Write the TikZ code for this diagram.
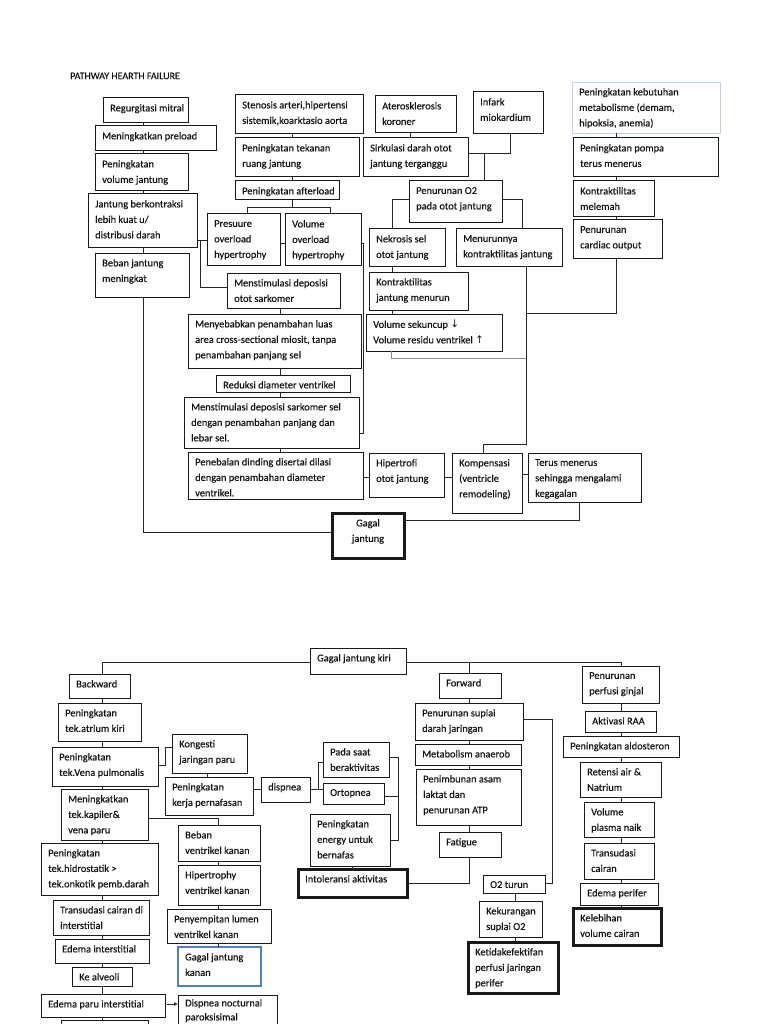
\documentclass[tikz,border=0pt]{standalone}
\usepackage{fontspec}
\setmainfont{Carlito}[FakeBold=0.35]
\newfontfamily\arrfont{DejaVu Sans}
\usetikzlibrary{arrows.meta}
\definecolor{gjblue}{RGB}{79,129,189}
\definecolor{paleblue}{RGB}{190,208,230}
\tikzset{
 box/.style={draw=black!90, line width=1pt, anchor=north west, inner sep=0pt, outer sep=0pt},
 thickbox/.style={line width=3pt},
 bluebox/.style={draw=gjblue, line width=2.5pt},
 palebox/.style={draw=paleblue, line width=0.8pt},
 txt/.style={anchor=north west, inner sep=0pt, align=left, font=\fontsize{10.4}{15.5}\selectfont, text=black!92},
 conn/.style={line width=1pt, draw=black!85},
}
\newcommand\bx[7][]{%
  \node[box,#1,minimum width={(#5)-(#3)},minimum height={(#6)-(#4)}] (#2) at (#3,#4) {};
  \node[txt] (#2t) at ([xshift=7pt,yshift=-6pt]#2.north west) {#7};}
\newcommand\arrdn{{\arrfont\fontsize{10.5}{12}\selectfont ↓}}
\newcommand\arrup{{\arrfont\fontsize{10.5}{12}\selectfont ↑}}
\begin{document}
\begin{tikzpicture}[x=1pt,y=-1pt]
\useasboundingbox (0,0) rectangle (768,1024);
\clip (0,0) rectangle (768,1024);
\fill[white] (0,0) rectangle (768,1024);
\node[txt, anchor=west, font=\fontsize{10}{12}\selectfont] (title) at (70,76) {PATHWAY HEARTH FAILURE};
% ---------- top half ----------
\bx{reg}{103}{98}{188}{123}{Regurgitasi mitral}
\bx{pre}{95}{126}{216}{151}{Meningkatkan preload}
\bx{vol}{95}{154}{188}{191}{Peningkatan\\volume jantung}
\bx{jbk}{88}{194}{197}{247}{Jantung berkontraksi\\lebih kuat u/\\distribusi darah}
\bx{bjm}{95}{253}{189}{297}{Beban jantung\\meningkat}
\bx{sten}{235}{95}{363}{134}{Stenosis arteri,hipertensi\\sistemik,koarktasio aorta}
\bx{tek}{235}{138}{359}{177}{Peningkatan tekanan\\ruang jantung}
\bx{aft}{235}{181}{339}{200}{Peningkatan afterload}
\bx{pres}{207}{214}{280}{265}{Presuure\\overload\\hypertrophy}
\bx{volo}{285}{214}{361}{265}{Volume\\overload\\hypertrophy}
\bx{msd}{227}{273}{340}{308}{Menstimulasi deposisi\\otot sarkomer}
\bx{meny}{188}{314}{361}{368}{Menyebabkan penambahan luas\\area cross-sectional miosit, tanpa\\penambahan panjang sel}
\bx{red}{216}{375}{350}{392}{Reduksi diameter ventrikel}
\bx{mss}{184}{397}{359}{448}{Menstimulasi deposisi sarkomer sel\\dengan penambahan panjang dan\\lebar sel.}
\bx{peneb}{188}{452}{363}{499}{Penebalan dinding disertai dilasi\\dengan penambahan diameter\\ventrikel.}
\bx{hip}{369}{453}{444}{497}{Hipertrofi\\otot jantung}
\bx{komp}{452}{453}{522}{513}{Kompensasi\\(ventricle\\remodeling)}
\bx{terus}{528}{453}{641}{502}{Terus menerus\\sehingga mengalami\\kegagalan}
\node[box,thickbox,minimum width=72,minimum height=45] (gagal) at (332,513) {};
\node[txt,anchor=north,align=center] (gagalt) at ([yshift=-6pt]gagal.north) {Gagal\\jantung};
\bx{ater}{375}{96}{456}{133}{Aterosklerosis\\koroner}
\bx{inf}{473}{92}{543}{134}{Infark\\miokardium}
\bx{sirk}{363}{138}{468}{177}{Sirkulasi darah otot\\jantung terganggu}
\bx{po2}{409}{181}{502}{223}{Penurunan O2\\pada otot jantung}
\bx{nek}{369}{229}{445}{266}{Nekrosis sel\\otot jantung}
\bx{menu}{456}{229}{562}{266}{Menurunnya\\kontraktilitas jantung}
\bx{kjm}{369}{272}{468}{310}{Kontraktilitas\\jantung menurun}
\bx{vs}{366}{314}{502}{351}{Volume sekuncup \arrdn\\Volume residu ventrikel \arrup}
\bx[palebox]{keb}{572}{82}{720}{133}{Peningkatan kebutuhan\\metabolisme (demam,\\hipoksia, anemia)}
\bx{pomp}{573}{138}{718}{177}{Peningkatan pompa\\terus menerus}
\bx{kml}{573}{181}{654}{217}{Kontraktilitas\\melemah}
\bx{pco}{573}{220}{662}{258}{Penurunan\\cardiac output}
% top connectors
\draw[conn] (reg.south -| 143,0) -- (pre.north -| 143,0);
\draw[conn] (pre.south -| 143,0) -- (vol.north -| 143,0);
\draw[conn] (vol.south -| 143,0) -- (jbk.north -| 143,0);
\draw[conn] (jbk.south -| 143,0) -- (bjm.north -| 143,0);
\draw[conn] (bjm.south -| 143,0) |- (gagal.west |- 0,532);
\draw[conn] (jbk.east |- 0,240) -- (pres.west |- 0,240);
\draw[conn] (jbk.east |- 0,240) -- (200,240) |- (msd.west |- 0,287);
\draw[conn] (pres.east |- 0,243) -- (volo.west |- 0,243);
\draw[conn] (volo.east |- 0,243) -- (363,243) |- (mss.east |- 0,433);
\draw[conn] (sten.south -| 292,0) -- (tek.north -| 292,0);
\draw[conn] (tek.south -| 292,0) -- (aft.north -| 292,0);
\draw[conn] (aft.south -| 292,0) -- (292,208);
\draw[conn] (pres.north -| 247,0) |- (330,208) -- (volo.north -| 330,0);
\draw[conn] (msd.south -| 280,0) -- (meny.north -| 280,0);
\draw[conn] (meny.south -| 280,0) -- (red.north -| 280,0);
\draw[conn] (red.south -| 280,0) -- (mss.north -| 280,0);
\draw[conn] (mss.south -| 280,0) -- (peneb.north -| 280,0);
\draw[conn] (peneb.east |- 0,477) -- (hip.west |- 0,477);
\draw[conn] (hip.east |- 0,477) -- (komp.west |- 0,477);
\draw[conn] (komp.east |- 0,474) -- (terus.west |- 0,474);
\draw[conn] (terus.south -| 579,0) |- (gagal.east |- 0,520);
\draw[conn] (komp.north -| 483,0) |- (526,444) -- (menu.south -| 526,0);
\draw[conn] (pco.south -| 616,0) |- (526,313);
\draw[line width=1pt, draw=black!45] (vs.south -| 391,0) |- (526,358);
\draw[conn] (ater.south -| 410,0) -- (sirk.north -| 410,0);
\draw[conn] (inf.south -| 510,0) |- (sirk.east |- 0,154);
\draw[conn] (484,154) -- (po2.north -| 484,0);
\draw[conn] (po2.west |- 0,200) -| (nek.north -| 392,0);
\draw[conn] (po2.east |- 0,200) -| (menu.north -| 522,0);
\draw[conn] (nek.south -| 392,0) -- (kjm.north -| 392,0);
\draw[conn] (kjm.south -| 392,0) -- (vs.north -| 392,0);
\draw[conn] (keb.south -| 616,0) -- (pomp.north -| 616,0);
\draw[conn] (pomp.south -| 616,0) -- (kml.north -| 616,0);
\draw[conn] (kml.south -| 616,0) -- (pco.north -| 616,0);
% ---------- bottom half ----------
\bx{gjk}{310}{648}{406}{674}{Gagal jantung kiri}
\bx{back}{69}{674}{130}{698}{Backward}
\bx{atr}{58}{703}{141}{741}{Peningkatan\\tek.atrium kiri}
\bx{ven}{52}{747}{158}{786}{Peningkatan\\tek.Vena pulmonalis}
\bx{kap}{61}{789}{148}{840}{Meningkatkan\\tek.kapiler\&\\vena paru}
\bx{hid}{41}{843}{158}{895}{Peningkatan\\tek.hidrostatik >\\tek.onkotik pemb.darah}
\bx{trc}{53}{900}{149}{935}{Transudasi cairan di\\interstitial}
\bx{edi}{55}{939}{149}{963}{Edema interstitial}
\bx{alv}{72}{967}{132}{986}{Ke alveoli}
\bx{epi}{41}{994}{165}{1017}{Edema paru interstitial}
\node[box,minimum width=87,minimum height=25] (nxt) at (61,1020) {};
\bx{kong}{172}{734}{247}{773}{Kongesti\\jaringan paru}
\bx{kerja}{165}{777}{253}{815}{Peningkatan\\kerja pernafasan}
\bx{disp}{261}{777}{310}{802}{dispnea}
\bx{beban}{178}{825}{260}{861}{Beban\\ventrikel kanan}
\bx{hvk}{178}{865}{260}{905}{Hipertrophy\\ventrikel kanan}
\bx{pyl}{167}{909}{271}{943}{Penyempitan lumen\\ventrikel kanan}
\bx[bluebox]{gjka}{178}{947}{261}{986}{Gagal jantung\\kanan}
\node[box,minimum width=99,minimum height=50] (dpn) at (178,995) {};
\node[txt,font=\fontsize{10.4}{14}\selectfont] (dpnt) at ([xshift=7pt,yshift=-4pt]dpn.north west) {Dispnea nocturnal\\paroksisimal};
\bx{pada}{323}{742}{389}{777}{Pada saat\\beraktivitas}
\bx{orto}{323}{783}{384}{804}{Ortopnea}
\bx{energy}{310}{814}{390}{866}{Peningkatan\\energy untuk\\bernafas}
\bx[thickbox]{into}{298}{869}{407}{897}{Intoleransi aktivitas}
\bx{fwd}{439}{673}{501}{698}{Forward}
\bx{psd}{415}{703}{523}{740}{Penurunan suplai\\darah jaringan}
\bx{man}{415}{744}{521}{765}{Metabolism anaerob}
\bx{pas}{416}{769}{521}{825}{Penimbunan asam\\laktat dan\\penurunan ATP}
\bx{fat}{439}{832}{501}{857}{Fatigue}
\bx{o2t}{483}{875}{545}{893}{O2 turun}
\bx{kek}{479}{901}{542}{937}{Kekurangan\\suplai O2}
\bx[thickbox]{ket}{468}{942}{558}{993}{Ketidakefektifan\\perfusi jaringan\\perifer}
\bx{ppg}{582}{666}{659}{703}{Penurunan\\perfusi ginjal}
\bx{raa}{585}{711}{656}{732}{Aktivasi RAA}
\bx{ald}{563}{736}{679}{757}{Peningkatan aldosteron}
\bx{ret}{580}{762}{661}{797}{Retensi air \&\\Natrium}
\bx{vpn}{584}{802}{654}{837}{Volume\\plasma naik}
\bx{trs}{584}{843}{654}{879}{Transudasi\\cairan}
\bx{edp}{580}{883}{658}{905}{Edema perifer}
\bx[thickbox]{kvc}{573}{908}{661}{945}{Kelebihan\\volume cairan}
% bottom connectors
\draw[conn] (gjk.west |- 0,662) -| (back.north -| 102,0);
\draw[conn] (gjk.east |- 0,662) -| (ppg.north -| 621,0);
\draw[conn] (469,662) -- (fwd.north -| 469,0);
\draw[conn] (back.south -| 102,0) -- (atr.north -| 102,0);
\draw[conn] (atr.south -| 102,0) -- (ven.north -| 102,0);
\draw[conn] (ven.south -| 102,0) -- (kap.north -| 102,0);
\draw[conn] (kap.south -| 102,0) -- (hid.north -| 102,0);
\draw[conn] (hid.south -| 102,0) -- (trc.north -| 102,0);
\draw[conn] (trc.south -| 102,0) -- (edi.north -| 102,0);
\draw[conn] (edi.south -| 102,0) -- (alv.north -| 102,0);
\draw[conn] (alv.south -| 102,0) -- (epi.north -| 102,0);
\draw[conn] (epi.south -| 102,0) -- (nxt.north -| 102,0);
\draw[conn] (ven.east |- 0,765) -- (165,765) |- (kong.west |- 0,747);
\draw[conn] (kong.south -| 207,0) -- (kerja.north -| 207,0);
\draw[conn] (kerja.east |- 0,789) -- (disp.west |- 0,789);
\draw[conn] (disp.east |- 0,789) -- (orto.west |- 0,789);
\draw[conn] (318,789) |- (pada.west |- 0,762);
\draw[conn] (pada.east |- 0,757) -- (398,757) |- (energy.east |- 0,840);
\draw[conn] (orto.east |- 0,796) -- (398,796);
\draw[conn] (energy.south -| 352,0) -- (into.north -| 352,0);
\draw[conn] (kap.east |- 0,818) -| (beban.north -| 218,0);
\draw[conn] (beban.south -| 218,0) -- (hvk.north -| 218,0);
\draw[conn] (hvk.south -| 218,0) -- (pyl.north -| 218,0);
\draw[conn] (pyl.south -| 218,0) -- (gjka.north -| 218,0);
\draw[conn,-{Latex[length=4pt,width=4pt]}] (167,1004) -- (dpn.west |- 0,1004);
\draw[conn] (fwd.south -| 469,0) -- (psd.north -| 469,0);
\draw[conn] (psd.south -| 469,0) -- (man.north -| 469,0);
\draw[conn] (man.south -| 469,0) -- (pas.north -| 469,0);
\draw[conn] (pas.south -| 469,0) -- (fat.north -| 469,0);
\draw[conn] (fat.south -| 469,0) |- (into.east |- 0,883);
\draw[conn] (psd.east |- 0,719) -| (552,883) -- (o2t.east |- 0,883);
\draw[conn] (o2t.south -| 515,0) -- (kek.north -| 515,0);
\draw[conn] (kek.south -| 515,0) -- (ket.north -| 515,0);
\draw[conn] (ppg.south -| 621,0) -- (raa.north -| 621,0);
\draw[conn] (raa.south -| 621,0) -- (ald.north -| 621,0);
\draw[conn] (ald.south -| 621,0) -- (ret.north -| 621,0);
\draw[conn] (ret.south -| 621,0) -- (vpn.north -| 621,0);
\draw[conn] (vpn.south -| 621,0) -- (trs.north -| 621,0);
\draw[conn] (trs.south -| 621,0) -- (edp.north -| 621,0);
\draw[conn] (edp.south -| 621,0) -- (kvc.north -| 621,0);
\end{tikzpicture}
\end{document}
